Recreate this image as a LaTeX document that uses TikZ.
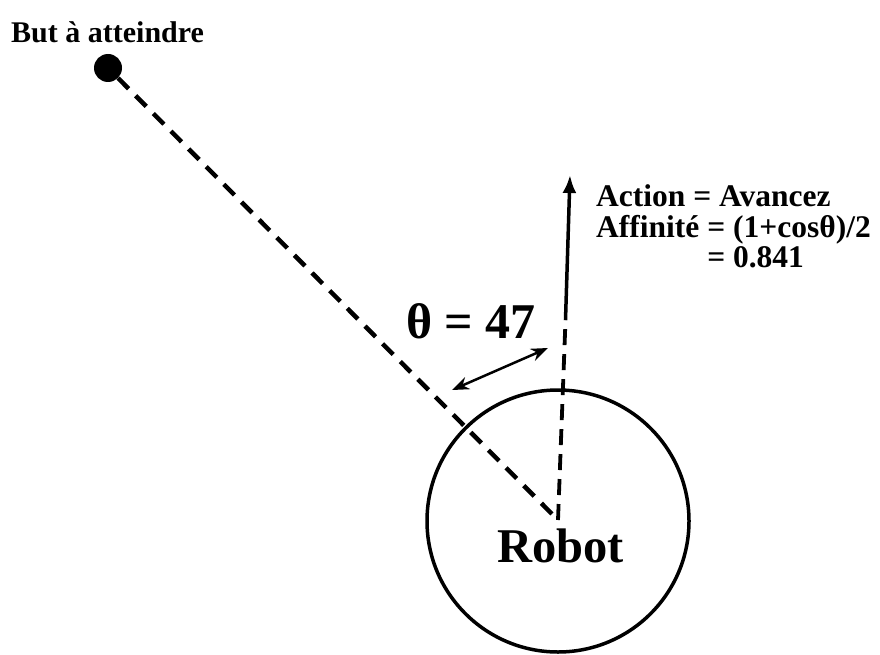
\documentclass[tikz,border=0pt]{standalone}
\usepackage{fontspec}
\setmainfont{Liberation Serif}
\usetikzlibrary{arrows.meta}
\begin{document}
\begin{tikzpicture}[x=1pt,y=-1pt,
  lbl/.style={font=\bfseries\fontsize{31.5}{31}\selectfont, inner sep=0pt, anchor=base west},
  big/.style={font=\bfseries\fontsize{49}{49}\selectfont, inner sep=0pt, anchor=base west},
  dashline/.style={line width=4.5pt, dash pattern=on 15pt off 10pt},
  vdash/.style={line width=3.8pt, dash pattern=on 16pt off 9pt},
  solidline/.style={line width=3.5pt},
  dblarrow/.style={line width=2.5pt, {Stealth[length=17pt,width=13pt]}-{Stealth[length=17pt,width=13pt]}}]
\useasboundingbox (0,0) rectangle (880,655);

% goal
\node[lbl, font=\bfseries\fontsize{30}{30}\selectfont] (goaltext) at (11,43) {But à atteindre};
\node[circle, fill=black, minimum size=28pt, inner sep=0pt] (goal) at (108,68) {};

% robot
\node[circle, draw=black, line width=3.5pt, minimum size=262pt, inner sep=0pt] (robot) at (558,521) {};
\coordinate (c) at (558,520);
\node[big, font=\bfseries\fontsize{48.5}{48.5}\selectfont] (robottext) at (497,562) {Robot};

% direction lines
\coordinate (brk) at (565.5,320);
\coordinate (tip) at (570,175);
\draw[dashline] (goal) -- (c);
\draw[vdash] (c) -- (brk);
\draw[solidline, -{Latex[length=18pt,width=14pt]}] (brk) -- (tip);

% angle
\coordinate (a1) at (452,390);
\coordinate (a2) at (548,348);
\draw[dblarrow] (a1) -- (a2);
\node[big, font=\bfseries\fontsize{50}{50}\selectfont] (theta) at (406,338) {θ = 47};

% action text
\node[lbl] (action) at (596,206) {\vtop{\baselineskip=31pt\lineskiplimit=-100pt
  \hbox{Action = Avancez}
  \hbox{Affinité = (1+cosθ)/2}
  \hbox{\hphantom{Affinité }= 0.841}}};
\end{tikzpicture}
\end{document}
